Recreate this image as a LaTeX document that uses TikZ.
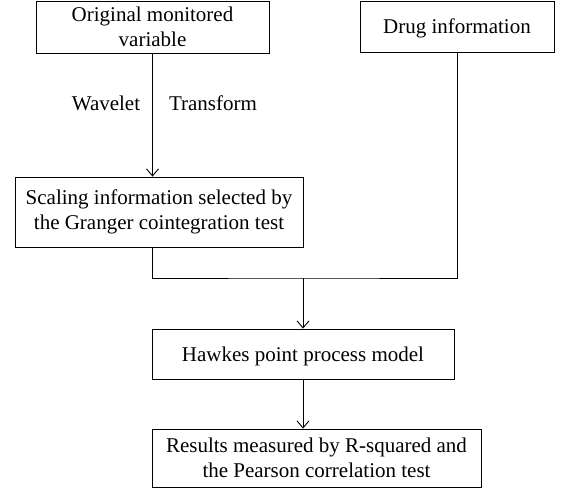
\documentclass[tikz,border=0pt]{standalone}
\usepackage{fontspec}
\setmainfont{Liberation Serif}
\usetikzlibrary{arrows.meta}
\begin{document}
\begin{tikzpicture}[x=1pt,y=-1pt,
  box/.style={draw, line width=0.9pt, inner sep=0pt, align=center,
    font=\fontsize{21}{25}\selectfont},
  onebox/.style={box, text depth=0pt},
  lbl/.style={inner sep=0pt, anchor=base, font=\fontsize{21}{25}\selectfont},
  arr/.style={line width=0.9pt, -{Straight Barb[length=7pt,width=12pt]}},
  conn/.style={line width=0.9pt}]
\useasboundingbox (0,0) rectangle (561,490);
\node[box, minimum width=233pt, minimum height=52pt] (orig) at (152.5,27) {Original monitored\\variable};
\node[onebox, minimum width=194pt, minimum height=51pt] (drug) at (457,26.5) {Drug information};
\node[box, minimum width=288pt, minimum height=70pt] (scal) at (159,212) {Scaling information selected by\\the Granger cointegration test};
\node[onebox, minimum width=302pt, minimum height=50pt] (hawk) at (303,354) {Hawkes point process model};
\node[box, minimum width=329pt, minimum height=58pt] (res) at (316.5,458) {Results measured by R-squared and\\the Pearson correlation test};
\node[lbl] (wav) at (106,110) {Wavelet};
\node[lbl] (tra) at (213,110) {Transform};
\coordinate (j) at (303,278);
\draw[arr] (orig.south) -- (orig.south |- scal.north);
\draw[conn] (scal.south -| orig.south) |- (j) -| (drug.south);
\draw[arr] (j) -- (hawk.north);
\draw[arr] (hawk.south) -- (hawk.south |- res.north);
\end{tikzpicture}
\end{document}
